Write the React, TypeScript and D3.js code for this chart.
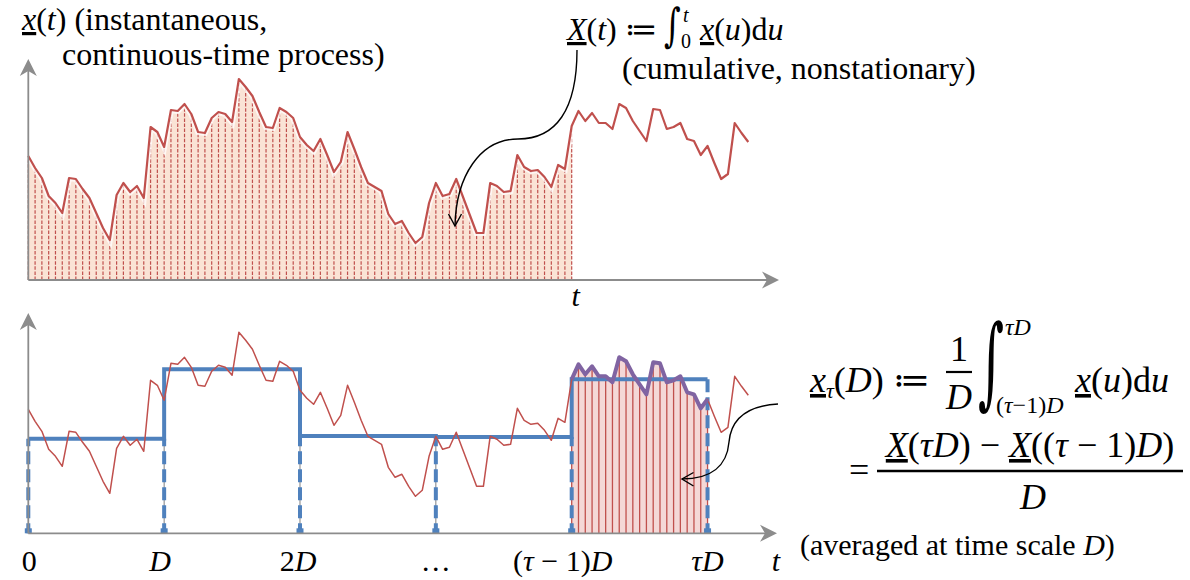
import * as d3 from 'd3';

// x(t) sampled on an even grid (arbitrary units, 0..100)
const samples = [
  62, 56, 51, 42, 38.5, 33.5, 51, 50.5, 45.5, 41,
  33.5, 26, 20, 42.5, 48.5, 44, 47, 41, 76.5, 74,
  66.5, 85, 84.5, 88, 83, 74, 73.5, 81, 84, 83,
  79, 100.5, 96.5, 92, 84, 76.5, 76, 86, 84, 81,
  71.5, 67.5, 64.5, 70.5, 62.5, 54, 59, 74, 65.5, 56.5,
  48.5, 46.5, 44.5, 33, 28, 29.5, 23.5, 18.5, 21.5, 38.5,
  48.5, 42, 43, 50.5, 41.5, 32.5, 23.5, 23.5, 48.5, 47,
  44, 44.5, 62.5, 56.5, 54.5, 55, 51.5, 46.5, 57.5, 55.5,
  77, 84.5, 79.5, 83.5, 78.5, 78.5, 75.5, 88, 86, 79.5,
  74.5, 69.5, 85.5, 85, 75.5, 76.5, 78.5, 70.5, 69.5, 62.5,
  67, 58.5, 50.5, 53, 78.5, 73.5, 69,
];

// averages over each window of length D (same units)
const windowMeans = [47.3, 82, 48.7, 48.2, 77];
const windowSize = 20;
// sample index of t in the upper panel
const cumulativeEnd = 80;

const tickLabels = ['0', 'D', '2D', '…', '(τ − 1)D', 'τD'];
const tickNudge = [1, -4, -2, 0, -9, 0];

const RED = '#c0504d';
const BLUE = '#4f81bd';
const PURPLE = '#8064a2';
const GRAY = '#8c8c8c';
const FONT = '"Liberation Serif", "DejaVu Serif", serif';

const ITALIC = new Set(['t', 'u', 'D', 'τ']);
const UNDER = new Set(['x', 'X']);

function MathSpans({ s }: { s: string }) {
  return (
    <>
      {Array.from(s).map((c, i) => {
        if (UNDER.has(c))
          return (
            <tspan key={i} fontStyle="italic" style={{ textDecoration: 'underline' }}>
              {c}
            </tspan>
          );
        if (ITALIC.has(c))
          return (
            <tspan key={i} fontStyle="italic">
              {c}
            </tspan>
          );
        return <tspan key={i}>{c}</tspan>;
      })}
    </>
  );
}

const arrowUp = (x: number, tip: number) =>
  `M${x},${tip} L${x + 8.5},${tip + 17} L${x},${tip + 12} L${x - 8.5},${tip + 17} Z`;
const arrowRight = (tip: number, y: number) =>
  `M${tip},${y} L${tip - 17},${y - 8.5} L${tip - 12},${y} L${tip - 17},${y + 8.5} Z`;

export default function App() {
  const n = samples.length;
  const x = d3.scaleLinear().domain([0, n - 1]).range([28.3, 748.3]);
  const yTop = d3.scaleLinear().domain([0, 100]).range([280, 80]);
  const yBot = d3.scaleLinear().domain([0, 100]).range([533.3, 333.3]);

  const lineTop = d3.line<number>().x((_, i) => x(i)).y((d) => yTop(d));
  const lineBot = d3.line<number>().x((_, i) => x(i)).y((d) => yBot(d));

  const cumIdx = d3.range(0, cumulativeEnd + 1);
  const areaTop = d3
    .area<number>()
    .x((i) => x(i))
    .y0(yTop(0))
    .y1((i) => yTop(samples[i]));

  const winStart = (windowMeans.length - 1) * windowSize;
  const winIdx = d3.range(winStart, winStart + windowSize + 1);
  const areaBot = d3
    .area<number>()
    .x((i) => x(i))
    .y0(yBot(0))
    .y1((i) => yBot(samples[i]));
  const purpleLine = d3
    .line<number>()
    .x((i) => x(i))
    .y((i) => yBot(samples[i]));

  const step = d3.path();
  windowMeans.forEach((m, k) => {
    const x0 = x(k * windowSize);
    const x1 = x((k + 1) * windowSize);
    if (k === 0) step.moveTo(x0, yBot(m));
    else step.lineTo(x0, yBot(m));
    step.lineTo(x1, yBot(m));
  });

  const boundaries = d3.range(0, windowMeans.length + 1).map((k) => {
    const left = windowMeans[k - 1];
    const right = windowMeans[k];
    const h = left === undefined ? right : right === undefined ? left : Math.min(left, right);
    return { k, x: x(k * windowSize), h };
  });

  return (
    <svg width={1190} height={580} style={{ position: 'absolute', left: 0, top: 0 }} fontFamily={FONT}>
      <rect width={1190} height={580} fill="#fff" />

      {/* ---------- upper panel ---------- */}
      <path d={areaTop(cumIdx) ?? ''} fill="#fae3d5" />
      {cumIdx.map((i) => (
        <line
          key={i}
          x1={x(i)}
          x2={x(i)}
          y1={yTop(0)}
          y2={yTop(samples[i])}
          stroke={RED}
          strokeWidth={1.2}
          strokeDasharray="3.5 1.6"
        />
      ))}
      <path d={lineTop(samples.slice(0, cumulativeEnd + 1)) ?? ''} fill="none" stroke="#fff" strokeWidth={6} opacity={0.75} />
      <path d={lineTop(samples) ?? ''} fill="none" stroke={RED} strokeWidth={2.2} strokeLinejoin="round" />

      <line x1={x(0)} x2={x(0)} y1={yTop(0)} y2={70} stroke={GRAY} strokeWidth={1.8} />
      <path d={arrowUp(x(0), 59)} fill={GRAY} />
      <line x1={x(0)} x2={770} y1={yTop(0)} y2={yTop(0)} stroke={GRAY} strokeWidth={1.8} />
      <path d={arrowRight(779, yTop(0))} fill={GRAY} />

      <text x={x(cumulativeEnd) + 4} y={306} fontSize={30} fontStyle="italic" textAnchor="middle">
        t
      </text>

      {/* ---------- lower panel ---------- */}
      <path d={areaBot(winIdx) ?? ''} fill="#f4d8d7" />
      {winIdx.map((i) => (
        <line key={i} x1={x(i)} x2={x(i)} y1={yBot(0)} y2={yBot(samples[i])} stroke={RED} strokeWidth={1.3} />
      ))}

      {boundaries.slice(1, -2).map((b) => (
        <line key={b.k} x1={b.x} x2={b.x} y1={yBot(0)} y2={yBot(b.h)} stroke="#7f7f7f" strokeWidth={1} />
      ))}
      {boundaries.map((b) => (
        <g key={b.k}>
          <line
            x1={b.x}
            x2={b.x}
            y1={yBot(0)}
            y2={yBot(b.h)}
            stroke={BLUE}
            strokeWidth={4}
            strokeDasharray="13 5"
            strokeDashoffset={3}
          />
          <rect x={b.x - 3.5} y={yBot(0) - 5} width={7} height={5} fill={BLUE} />
        </g>
      ))}
      <path d={step.toString()} fill="none" stroke={BLUE} strokeWidth={4} strokeLinejoin="miter" />

      <path d={lineBot(samples) ?? ''} fill="none" stroke={RED} strokeWidth={1.5} strokeLinejoin="round" />
      <path d={purpleLine(winIdx) ?? ''} fill="none" stroke={PURPLE} strokeWidth={4} strokeLinejoin="round" />

      <line x1={x(0)} x2={x(0)} y1={yBot(0)} y2={323} stroke={GRAY} strokeWidth={1.8} />
      <path d={arrowUp(x(0), 313)} fill={GRAY} />
      <line x1={x(0)} x2={768} y1={yBot(0)} y2={yBot(0)} stroke={GRAY} strokeWidth={1.8} />
      <path d={arrowRight(777, yBot(0))} fill={GRAY} />

      {tickLabels.map((lab, k) => (
        <text key={k} x={x(k * windowSize) + tickNudge[k]} y={571} fontSize={30} textAnchor="middle">
          <MathSpans s={lab} />
        </text>
      ))}
      <text x={776} y={571} fontSize={30} fontStyle="italic" textAnchor="middle">
        t
      </text>

      {/* ---------- annotations ---------- */}
      <path d="M577,50 C577,110 556,139 518,139 C480,139 456,176 455,226" fill="none" stroke="#000" strokeWidth={1.4} />
      <path d="M448.5,214 L455,226 L461.5,214" fill="none" stroke="#000" strokeWidth={1.4} />
      <path d="M778,404 C746,406 731,420 729,442 C727,466 711,479 682,479" fill="none" stroke="#000" strokeWidth={1.4} />
      <path d="M693.5,472.5 L682,479 L693.5,486" fill="none" stroke="#000" strokeWidth={1.4} />

      {/* ---------- texts ---------- */}
      <text x={22} y={30} fontSize={32}>
        <MathSpans s="x(t)" />
        <tspan> (instantaneous,</tspan>
      </text>
      <text x={62} y={65} fontSize={32}>
        continuous-time process)
      </text>

      <text x={567} y={40} fontSize={32}>
        <MathSpans s="X(t) ≔" />
      </text>
      <text x={0} y={0} fontSize={46} fontFamily='"DejaVu Serif", serif' transform="translate(664,41) scale(0.7,1)">
        ∫
      </text>
      <text x={683} y={22} fontSize={20} fontStyle="italic">
        t
      </text>
      <text x={681} y={48} fontSize={20}>
        0
      </text>
      <text x={700} y={40} fontSize={32}>
        <MathSpans s="x(u)du" />
      </text>
      <text x={622} y={79} fontSize={32}>
        (cumulative, nonstationary)
      </text>

      {/* x_tau(D) := 1/D * integral */}
      <text x={810} y={392} fontSize={36}>
        <MathSpans s="x" />
        <tspan fontSize={22} fontStyle="italic" dy={6}>
          τ
        </tspan>
        <tspan dy={-6}>(</tspan>
        <tspan fontStyle="italic">D</tspan>
        <tspan>) ≔</tspan>
      </text>
      <text x={959} y={361} fontSize={36} textAnchor="middle">
        1
      </text>
      <line x1={946} x2={972} y1={372} y2={372} stroke="#000" strokeWidth={2.2} />
      <text x={959} y={409} fontSize={36} fontStyle="italic" textAnchor="middle">
        D
      </text>
      <text x={0} y={0} fontSize={100} fontFamily='"DejaVu Serif", serif' transform="translate(978,396) scale(0.5,1)">
        ∫
      </text>
      <text x={1005} y={335} fontSize={24}>
        <MathSpans s="τD" />
      </text>
      <text x={996} y={413} fontSize={24}>
        <MathSpans s="(τ−1)D" />
      </text>
      <text x={1075} y={392} fontSize={36}>
        <MathSpans s="x(u)du" />
      </text>

      {/* = (X(tau D) - X((tau-1)D)) / D */}
      <text x={849} y={482} fontSize={36}>
        =
      </text>
      <text x={1030} y={457} fontSize={36} textAnchor="middle">
        <MathSpans s="X(τD) − X((τ − 1)D)" />
      </text>
      <line x1={877} x2={1183} y1={471} y2={471} stroke="#000" strokeWidth={2.6} />
      <text x={1033} y={509} fontSize={36} fontStyle="italic" textAnchor="middle">
        D
      </text>

      <text x={800} y={555} fontSize={30}>
        (averaged at time scale <tspan fontStyle="italic">D</tspan>)
      </text>
    </svg>
  );
}
